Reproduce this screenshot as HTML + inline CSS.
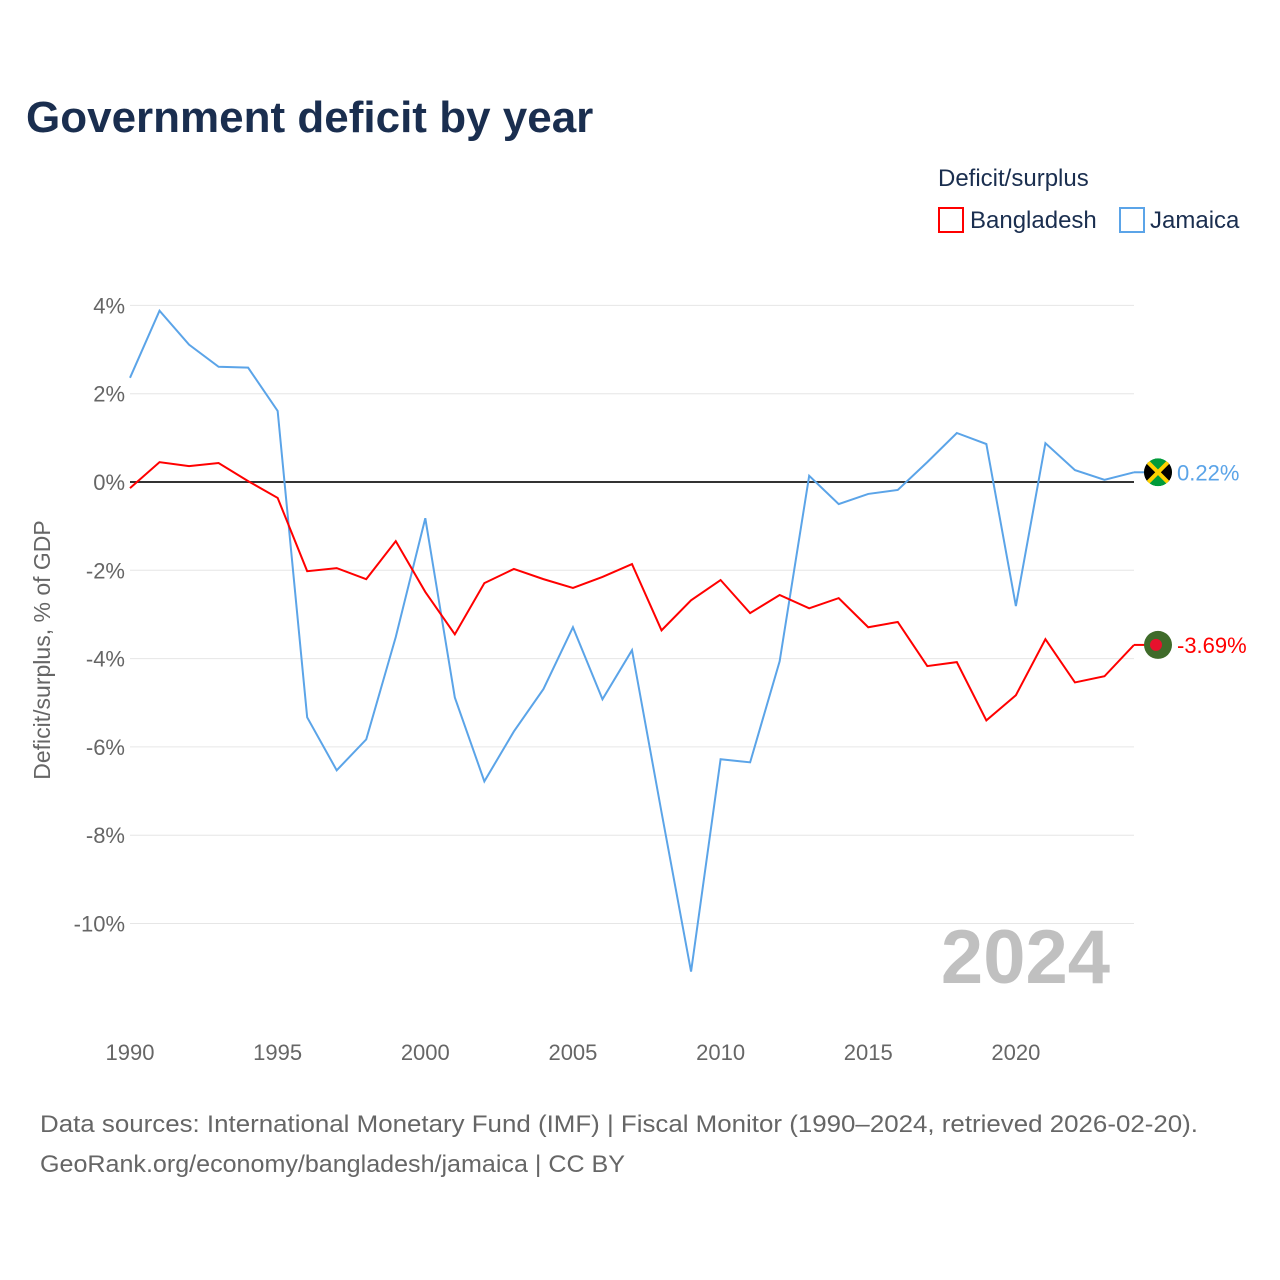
<!DOCTYPE html>
<html><head><meta charset="utf-8">
<style>
body{margin:0;background:#fff;font-family:"Liberation Sans",sans-serif;}
#wrap{position:relative;width:1280px;height:1280px;overflow:hidden;}
</style></head>
<body>
<div id="wrap">
<svg id="chart" width="1280" height="1280">
<defs><clipPath id="jclip"><circle id="jclipc" cx="1158" cy="472" r="14"/></clipPath></defs>
<text x="26" y="132" font-size="44" font-weight="bold" fill="#1a2e4f">Government deficit by year</text>
<text x="938" y="186" font-size="24" fill="#1a2e4f">Deficit/surplus</text>
<g>
<rect x="939" y="208" width="24" height="24" fill="none" stroke="#ff0000" stroke-width="2"/>
<text x="970" y="228" font-size="24" fill="#1a2e4f">Bangladesh</text>
</g>
<g>
<rect x="1120" y="208" width="24" height="24" fill="none" stroke="#5ba4e8" stroke-width="2"/>
<text x="1150" y="228" font-size="24" fill="#1a2e4f">Jamaica</text>
</g>
<g id="grid"></g>
<text x="1110" y="983" font-size="76" font-weight="bold" fill="#c0c0c0" text-anchor="end">2024</text>
<text transform="translate(50,650) rotate(-90)" font-size="23" fill="#666" text-anchor="middle">Deficit/surplus, % of GDP</text>
<g id="series"></g>
<text x="40" y="1132" font-size="24" fill="#666" textLength="1158" lengthAdjust="spacingAndGlyphs">Data sources: International Monetary Fund (IMF) | Fiscal Monitor (1990–2024, retrieved 2026-02-20).</text>
<text x="40" y="1172" font-size="24" fill="#666" textLength="585" lengthAdjust="spacingAndGlyphs">GeoRank.org/economy/bangladesh/jamaica | CC BY</text>
</svg>
</div>
<script>
const years = [];
for (let y = 1990; y <= 2024; y++) years.push(y);
const jamaica = [2.36,3.88,3.11,2.61,2.59,1.61,-5.33,-6.53,-5.83,-3.51,-0.82,-4.88,-6.78,-5.65,-4.69,-3.29,-4.92,-3.81,-7.48,-11.09,-6.28,-6.35,-4.06,0.14,-0.50,-0.27,-0.18,0.45,1.11,0.86,-2.81,0.88,0.27,0.05,0.22];
const bangladesh = [-0.14,0.45,0.36,0.43,0.02,-0.36,-2.02,-1.95,-2.20,-1.34,-2.49,-3.45,-2.29,-1.97,-2.20,-2.40,-2.15,-1.86,-3.36,-2.68,-2.22,-2.97,-2.56,-2.86,-2.63,-3.29,-3.17,-4.17,-4.08,-5.40,-4.83,-3.56,-4.54,-4.40,-3.69];
const yTicks = [4,2,0,-2,-4,-6,-8,-10];
const xTicks = [1990,1995,2000,2005,2010,2015,2020];

const NS = "http://www.w3.org/2000/svg";
const X = yr => 130 + (yr - 1990) * (1134 - 130) / 34;
const Y = v => 482 - v * 44.15;
function mk(tag, attrs, parent) { const e = document.createElementNS(NS, tag); for (const k in attrs) e.setAttribute(k, attrs[k]); parent.appendChild(e); return e; }
const grid = document.getElementById('grid');
yTicks.forEach(t => {
  const l = mk('line', {x1:130, x2:1134, y1:Y(t), y2:Y(t), stroke: t===0?'#333':'#e6e6e6', 'stroke-width': t===0?2:1}, grid);
  
  
  const tx = mk('text', {x:125, y:Y(t)+8, 'font-size':22, fill:'#666', 'text-anchor':'end'}, grid);
  tx.textContent = t + '%';
  
  
});
xTicks.forEach(t => {
  const tx = mk('text', {x:X(t), y:1060, 'font-size':22, fill:'#666', 'text-anchor':'middle'}, grid);
  tx.textContent = t;
  
  
});
const s = document.getElementById('series');
function line(vals, color, name) {
  const p = mk('polyline', {points: vals.map((v,i)=>X(years[i])+','+Y(v)).join(' '), fill:'none', stroke:color, 'stroke-width':2}, s);
  
  
}
line(jamaica, '#5ba4e8', 'jamaica-line');
line(bangladesh, '#ff0000', 'bangladesh-line');
const jv = jamaica[jamaica.length-1], bv = bangladesh[bangladesh.length-1];
const jy = Y(jv), by = Y(bv);
document.getElementById('jclipc').setAttribute('cy', jy);
const jl = mk('line',{x1:1134,x2:1146,y1:jy,y2:jy,stroke:'#5ba4e8','stroke-width':2},s);
 
const bl = mk('line',{x1:1134,x2:1146,y1:by,y2:by,stroke:'#ff0000','stroke-width':2},s);
 
const jf = mk('g',{'clip-path':'url(#jclip)'},s);
 
mk('circle',{cx:1158,cy:jy,r:14,fill:'#009b3a'},jf);
mk('path',{d:`M1144 ${jy-14}L1158 ${jy}L1144 ${jy+14}Z M1172 ${jy-14}L1158 ${jy}L1172 ${jy+14}Z`,fill:'#000'},jf);
mk('path',{d:`M1144 ${jy-14}L1172 ${jy+14}M1172 ${jy-14}L1144 ${jy+14}`,stroke:'#fed100','stroke-width':4},jf);
const bf = mk('g',{},s);
 
mk('circle',{cx:1158,cy:by,r:14,fill:'#3f6b2a'},bf);
mk('circle',{cx:1156,cy:by,r:6,fill:'#e8112d'},bf);
const jt = mk('text',{x:1177,y:jy+8,'font-size':22,fill:'#5ba4e8'},s);
jt.textContent = jv.toFixed(2)+'%';
 
const bt = mk('text',{x:1177,y:by+8,'font-size':22,fill:'#ff0000'},s);
bt.textContent = bv.toFixed(2)+'%';
 
</script>
</body></html>
